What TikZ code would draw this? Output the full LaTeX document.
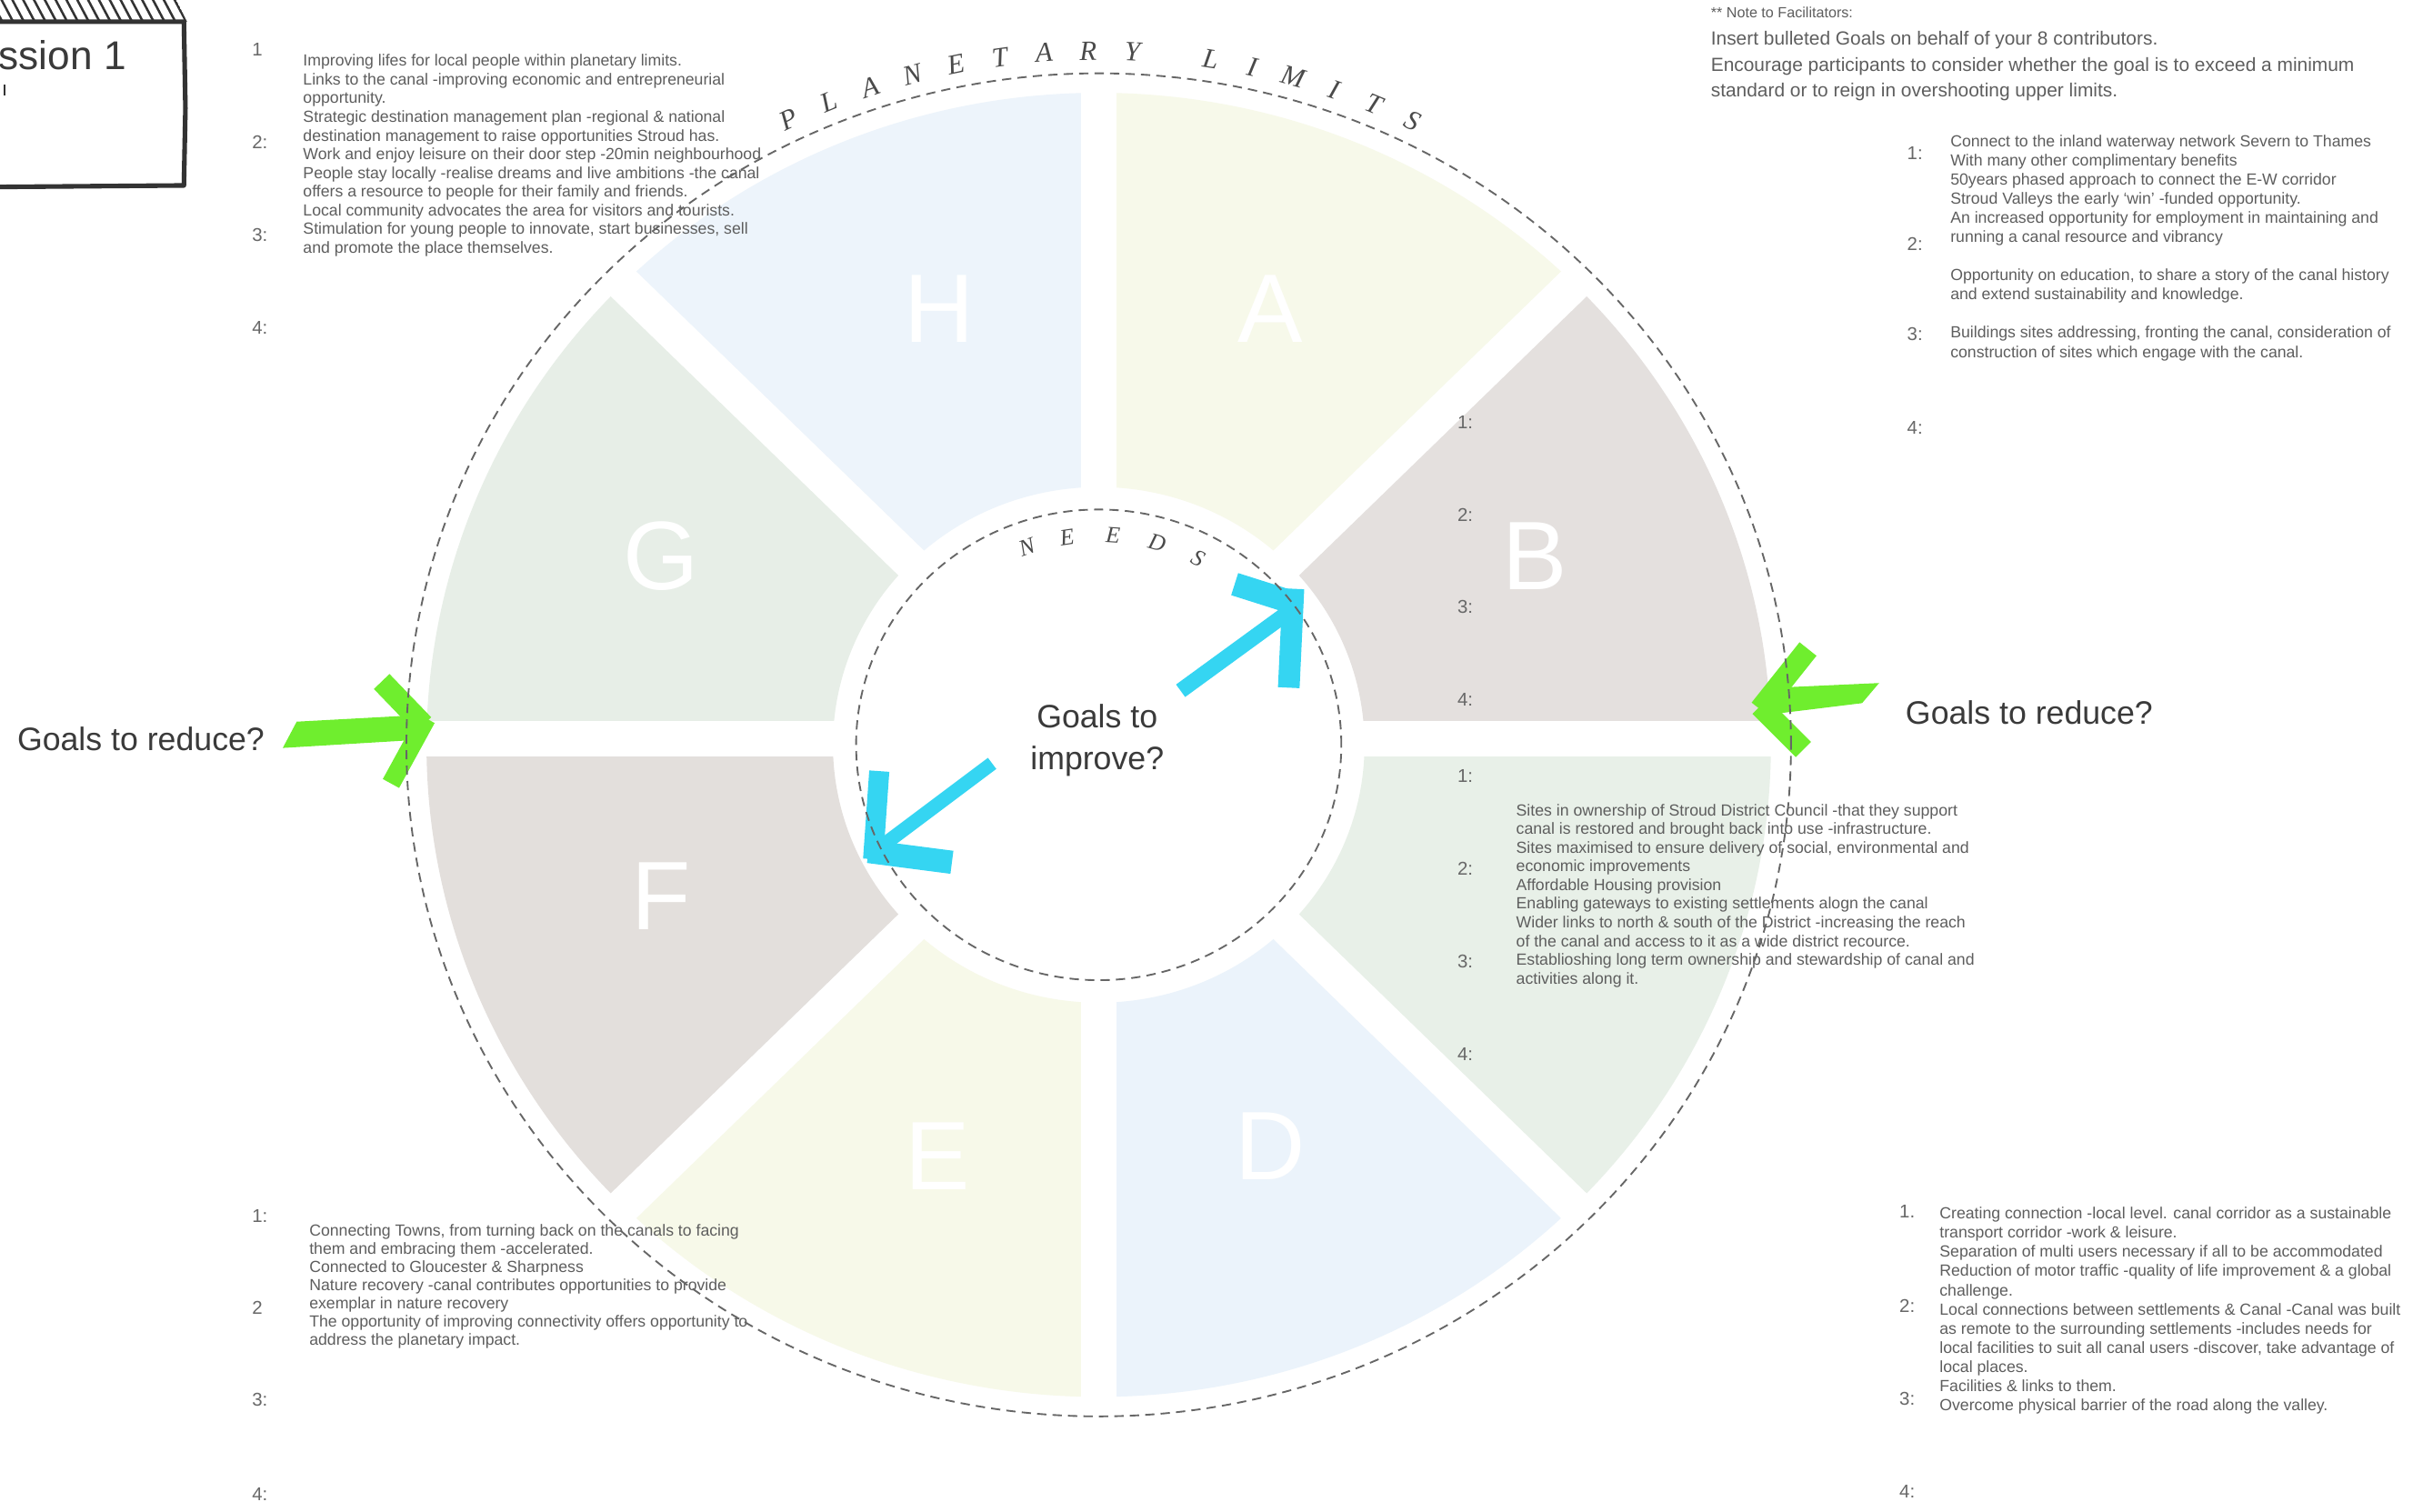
\documentclass[tikz,border=0pt]{standalone}
\usepackage{fontspec}
\setmainfont{Liberation Sans}
\newfontfamily\arcfont{Liberation Serif}

\definecolor{petalH}{HTML}{EDF4FB}
\definecolor{petalA}{HTML}{F7F9EA}
\definecolor{petalB}{HTML}{E4E0DE}
\definecolor{petalC}{HTML}{E8F0E8}
\definecolor{petalD}{HTML}{EBF3FB}
\definecolor{petalE}{HTML}{F7F9E9}
\definecolor{petalF}{HTML}{E3DFDC}
\definecolor{petalG}{HTML}{E7EEE7}
\definecolor{txtgray}{HTML}{5E5E5E}
\definecolor{numgray}{HTML}{686868}
\definecolor{darktxt}{HTML}{3A3A3A}
\definecolor{ringgray}{HTML}{666666}
\definecolor{arcgray}{HTML}{4A4A4A}
\definecolor{arrowcyan}{HTML}{35D5F2}
\definecolor{arrowgreen}{HTML}{6FEE2E}
\definecolor{boxline}{HTML}{333333}

\tikzset{
  notes/.style={anchor=north west, inner sep=0pt, align=left, text=txtgray,
    font=\fontsize{10.4}{12.2}\selectfont},
  num/.style={anchor=west, inner sep=0pt, text=numgray, font=\fontsize{12}{14}\selectfont},
  bigq/.style={inner sep=0pt, text=darktxt, font=\fontsize{21}{27}\selectfont},
  petalletter/.style={inner sep=0pt, text=white, font=\fontsize{63}{63}\selectfont},
  arcletter/.style={inner sep=0pt, text=arcgray, font=\arcfont\itshape\fontsize{18}{18}\selectfont},
  needletter/.style={inner sep=0pt, text=arcgray, font=\arcfont\itshape\fontsize{15}{15}\selectfont},
  dashring/.style={draw=ringgray, line width=1.1pt, dash pattern=on 6pt off 4pt},
  gapline/.style={draw=white, line width=23pt},
  cyanstroke/.style={draw=arrowcyan, line cap=butt},
  greenstroke/.style={draw=arrowgreen, line cap=butt},
}

\begin{document}
\begin{tikzpicture}[x=1pt,y=1pt]
\useasboundingbox (0,0) rectangle (1568,-978);
\fill[white] (0,0) rectangle (1568,-978);

% ---- the eight petals of the wheel ----
\begin{scope}[shift={(711,-482)}, yscale=0.97]
  \foreach \a/\c in {0/petalB,45/petalA,90/petalH,135/petalG,180/petalF,225/petalE,270/petalD,315/petalC} {
    \pgfmathsetmacro\b{\a+45}
    \fill[\c] (\a:172) -- (\a:435) arc[start angle=\a, end angle=\b, radius=435]
      -- (\b:172) arc[start angle=\b, end angle=\a, radius=172] -- cycle;
  }
  \draw[gapline] (-445,4) -- (445,4);
  \draw[gapline] (0,-445) -- (0,445);
  \draw[gapline] (45:445) -- (225:445);
  \draw[gapline] (135:445) -- (315:445);
\end{scope}

% ---- petal letters ----
\node[petalletter] (lH) at (608,-200) {H};
\node[petalletter] (lA) at (822,-200) {A};
\node[petalletter] (lB) at (993,-360) {B};
\node[petalletter] (lG) at (428,-360) {G};
\node[petalletter] (lF) at (428,-580) {F};
\node[petalletter] (lE) at (607,-748) {E};
\node[petalletter] (lD) at (822,-742) {D};

% ---- session box ----
\begin{scope}
  \clip (-2,2) -- (113,2) -- (121,-14) -- (-2,-14) -- cycle;
  \foreach \x in {-14,-7,...,120}
    \draw[boxline, line width=1.5pt] (\x,2) -- (\x+9,-15);
\end{scope}
\draw[boxline, line width=3pt, line join=round]
  (-4,-14) -- (119,-14) -- (120,-70) -- (119,-120) -- (-4,-121);
\node[anchor=west, inner sep=0pt, text=darktxt, font=\fontsize{26}{30}\selectfont] (sess) at (-1,-36) {ssion 1};
\draw[boxline, line width=1.2pt] (3,-55) -- (3,-62);

% ---- note to facilitators ----
\node[anchor=north west, inner sep=0pt, text=txtgray, font=\fontsize{9.5}{12}\selectfont] (notehead) at (1107,-4.5)
  {** Note to Facilitators:};
\node[notes, font=\fontsize{12.3}{16.6}\selectfont] (notebody) at (1107,-20.2)
  {Insert bulleted Goals on behalf of your 8 contributors.\\
   Encourage participants to consider whether the goal is to exceed a minimum\\
   standard or to reign in overshooting upper limits.};

% ---- H list ----
\node[num] (h1) at (163,-32) {1};
\node[num] (h2) at (163,-92) {2:};
\node[num] (h3) at (163,-152) {3:};
\node[num] (h4) at (163,-212) {4:};
\node[notes, font=\fontsize{10.4}{12.1}\selectfont] (htext) at (196,-35.1)
  {Improving lifes for local people within planetary limits.\\
   Links to the canal -improving economic and entrepreneurial\\
   opportunity.\\
   Strategic destination management plan -regional \& national\\
   destination management to raise opportunities Stroud has.\\
   Work and enjoy leisure on their door step -20min neighbourhood\\
   People stay locally -realise dreams and live ambitions -the canal\\
   offers a resource to people for their family and friends.\\
   Local community advocates the area for visitors and tourists.\\
   Stimulation for young people to innovate, start businesses, sell\\
   and promote the place themselves.};

% ---- A list ----
\node[num] (a1) at (1234,-99) {1:};
\node[num] (a2) at (1234,-158) {2:};
\node[num] (a3) at (1234,-216) {3:};
\node[num] (a4) at (1234,-277) {4:};
\node[notes, font=\fontsize{10.4}{12.4}\selectfont] (atext) at (1262,-87.1)
  {Connect to the inland waterway network Severn to Thames\\
   With many other complimentary benefits\\
   50years phased approach to connect the E-W corridor\\
   Stroud Valleys the early `win' -funded opportunity.\\
   An increased opportunity for employment in maintaining and\\
   running a canal resource and vibrancy\\[12.4pt]
   Opportunity on education, to share a story of the canal history\\
   and extend sustainability and knowledge.\\[12.4pt]
   Buildings sites addressing, fronting the canal, consideration of\\
   construction of sites which engage with the canal.};

% ---- B list ----
\node[num] (b1) at (943,-273) {1:};
\node[num] (b2) at (943,-333) {2:};
\node[num] (b3) at (943,-393) {3:};
\node[num] (b4) at (943,-453) {4:};

% ---- C list ----
\node[num] (c1) at (943,-502) {1:};
\node[num] (c2) at (943,-562) {2:};
\node[num] (c3) at (943,-622) {3:};
\node[num] (c4) at (943,-682) {4:};
\node[notes, font=\fontsize{10.4}{12.1}\selectfont] (ctext) at (981,-520.1)
  {Sites in ownership of Stroud District Council -that they support\\
   canal is restored and brought back into use -infrastructure.\\
   Sites maximised to ensure delivery of social, environmental and\\
   economic improvements\\
   Affordable Housing provision\\
   Enabling gateways to existing settlements alogn the canal\\
   Wider links to north \& south of the District -increasing the reach\\
   of the canal and access to it as a wide district recource.\\
   Establioshing long term ownership and stewardship of canal and\\
   activities along it.};

% ---- E list ----
\node[num] (e1) at (163,-787) {1:};
\node[num] (e2) at (163,-846) {2};
\node[num] (e3) at (163,-906) {3:};
\node[num] (e4) at (163,-967) {4:};
\node[notes, font=\fontsize{10.4}{11.8}\selectfont] (etext) at (200,-792.1)
  {Connecting Towns, from turning back on the canals to facing\\
   them and embracing them -accelerated.\\
   Connected to Gloucester \& Sharpness\\
   Nature recovery -canal contributes opportunities to provide\\
   exemplar in  nature recovery\\
   The opportunity of improving connectivity offers opportunity to\\
   address the planetary impact.};

% ---- D list ----
\node[num] (d1) at (1229,-784) {1.};
\node[num] (d2) at (1229,-845) {2:};
\node[num] (d3) at (1229,-905) {3:};
\node[num] (d4) at (1229,-965) {4:};
\node[notes, font=\fontsize{10.4}{12.4}\selectfont] (dtext) at (1255,-781.1)
  {Creating connection -local level. canal corridor as a sustainable\\
   transport corridor -work \& leisure.\\
   Separation of multi users necessary if all to be accommodated\\
   Reduction of motor traffic -quality of life improvement \& a global\\
   challenge.\\
   Local connections between settlements \& Canal -Canal was built\\
   as remote to the surrounding settlements -includes needs for\\
   local facilities to suit all canal users -discover, take advantage of\\
   local places.\\
   Facilities \& links to them.\\
   Overcome physical barrier of the road along the valley.};

% ---- questions ----
\node[bigq, anchor=west] (redL) at (11,-478) {Goals to reduce?};
\node[bigq, anchor=west] (redR) at (1233,-461) {Goals to reduce?};
\node[bigq, align=center] (improve) at (710,-479) {Goals to\\improve?};

% ---- green arrows (reduce) ----
\fill[arrowgreen] (192,-467) -- (266,-463) -- (266,-479) -- (183,-484) -- cycle;
\draw[greenstroke, line width=14pt] (247,-441) -- (274,-469);
\draw[greenstroke, line width=12pt] (276,-465) -- (253,-507);
\fill[arrowgreen] (1216,-442) -- (1150,-445) -- (1148,-462) -- (1205,-455) -- cycle;
\draw[greenstroke, line width=14pt] (1170,-420) -- (1139,-459);
\draw[greenstroke, line width=14pt] (1139,-457) -- (1167,-485);

% ---- cyan arrows (improve) ----
\draw[cyanstroke, line width=10pt] (764,-447) -- (834,-396);
\draw[cyanstroke, line width=15pt] (799,-378) -- (840,-391);
\draw[cyanstroke, line width=14pt] (837,-381) -- (834,-445);
\draw[cyanstroke, line width=9pt] (642,-494) -- (570,-548);
\draw[cyanstroke, line width=13pt] (569,-499) -- (565,-556);
\draw[cyanstroke, line width=15pt] (562,-551) -- (616,-558);

% ---- dashed rings and their lettering ----
\begin{scope}[shift={(711,-482)}, yscale=0.97]
  \draw[dashring] (0,0) circle[radius=448];
  \draw[dashring] (0,0) circle[radius=157];
  \foreach \ch/\ang [count=\i] in {P/115.7, L/112.15, A/108.6, N/105.05, E/101.5, T/97.95, A/94.4, R/90.85, Y/87.3,
                                   L/81.0, I/77.6, M/74.2, I/70.8, T/67.4, S/64.0}
    \node[arcletter, rotate=\ang-90] (pl\i) at (\ang:463) {\ch};
  \foreach \ch/\ang [count=\i] in {N/109.4, E/98.4, E/86.2, D/74.3, S/62.7}
    \node[needletter, rotate=\ang-90] (nd\i) at (\ang:140) {\ch};
\end{scope}

\end{tikzpicture}
\end{document}
